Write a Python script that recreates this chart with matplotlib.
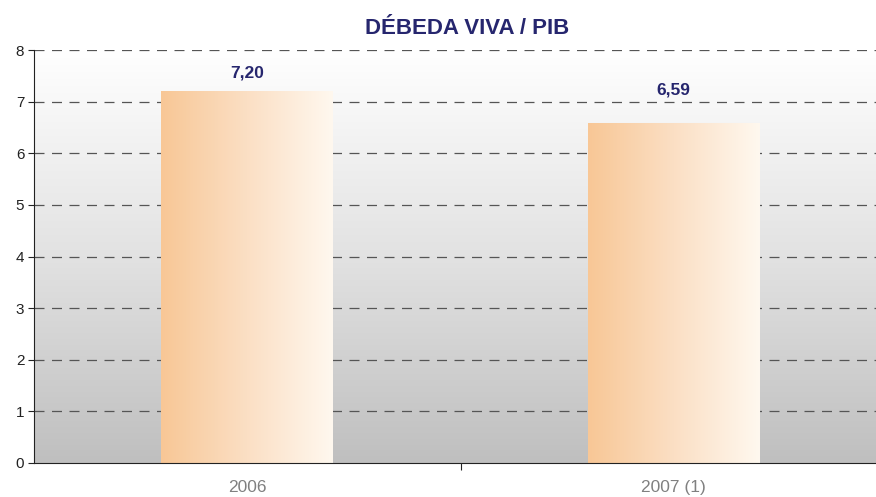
import numpy as np
import matplotlib
matplotlib.use('Agg')
import matplotlib.pyplot as plt
from matplotlib.colors import LinearSegmentedColormap

# data
categories = ['2006', '2007 (1)']
values = [7.20, 6.59]
value_labels = ['7,20', '6,59']
label_y = [7.56, 7.23]  # where the value labels sit

plt.rcParams['font.family'] = ['Liberation Sans', 'DejaVu Sans']

navy = '#26266E'

fig = plt.figure(figsize=(8.76, 4.97), dpi=100)
# axis runs a bit past the right edge of the picture
ax = fig.add_axes([34 / 876, 34 / 497, 853 / 876, 413 / 497])

# background gradient (white top -> gray bottom)
bg_cmap = LinearSegmentedColormap.from_list('bg', ['#BFBFBF', '#E2E2E2', '#FFFFFF'])
grad = np.linspace(0, 1, 256).reshape(-1, 1)
ax.imshow(grad, extent=[-0.5, 1.5, 0, 8], origin='lower', aspect='auto',
          cmap=bg_cmap, zorder=0)

# gridlines
for y in range(1, 9):
    ax.axhline(y, color='#555555', linestyle=(0, (8, 6)), linewidth=0.9, zorder=1)

# bars with horizontal gradient
bar_cmap = LinearSegmentedColormap.from_list('bar', ['#F8C796', '#FBDFC4', '#FFF8EF'])
hgrad = np.linspace(0, 1, 256).reshape(1, -1)
bars = ax.bar(range(len(values)), values, width=0.403, color='none', zorder=2)
for b in bars:
    x0, w, h = b.get_x(), b.get_width(), b.get_height()
    im = ax.imshow(hgrad, extent=[x0, x0 + w, 0, h], aspect='auto',
                   cmap=bar_cmap, zorder=2)
    im.set_clip_path(b)

for i, (lab, ly) in enumerate(zip(value_labels, label_y)):
    ax.text(i, ly, lab, ha='center', va='center', fontsize=12.5,
            fontweight='bold', color=navy)

ax.set_xlim(-0.5, 1.5)
ax.set_ylim(0, 8)

# axes styling
for s in ['top', 'right']:
    ax.spines[s].set_visible(False)
ax.spines['left'].set_color('#222222')
ax.spines['bottom'].set_color('#222222')
ax.set_yticks(range(0, 9))
ax.tick_params(axis='y', labelsize=11, length=4, pad=3, direction='out', colors='#222222')
ax.set_xticks([0.5])
ax.set_xticklabels([''])
ax.tick_params(axis='x', length=5, direction='out', colors='#222222')
ax.set_xticks(range(len(categories)), minor=True)
ax.set_xticklabels(categories, minor=True)
ax.tick_params(axis='x', which='minor', length=0, labelsize=12.5,
               labelcolor='#808080', pad=12)

fig.text(467 / 876, 1 - 29 / 497, 'DÉBEDA VIVA / PIB', ha='center', va='center',
         fontsize=16, fontweight='bold', color=navy)

fig.savefig('out.png', dpi=100)
